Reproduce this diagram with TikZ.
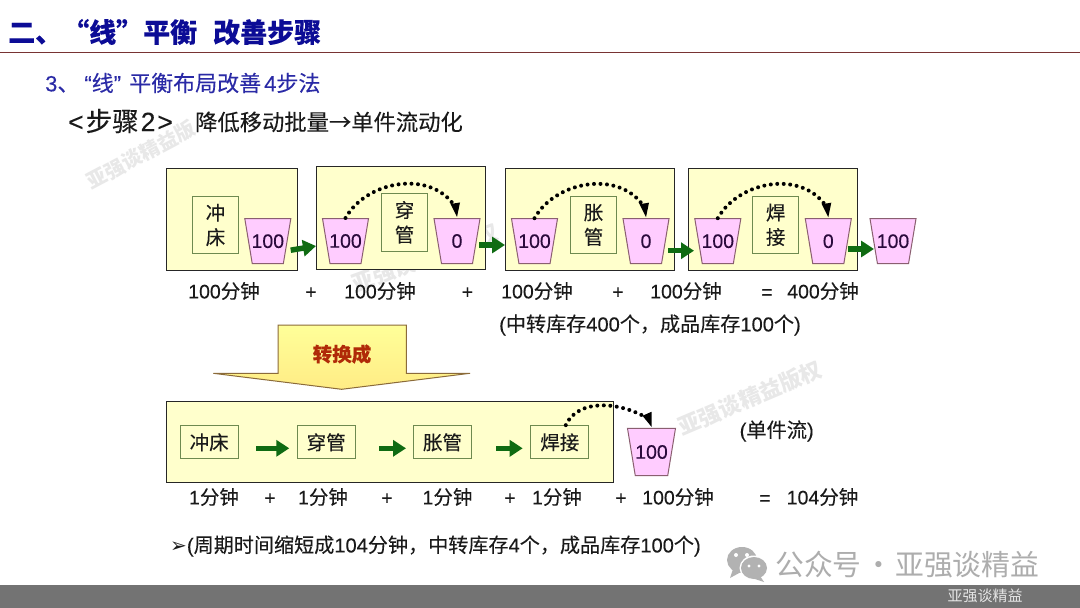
\documentclass[tikz,border=0pt]{standalone}
\usepackage{fontspec}
\setmainfont[FakeBold=0.12]{Liberation Sans}
\newfontfamily\cjk[FakeBold=0.12]{Noto Sans CJK SC}
\newfontfamily\cjklight{Noto Sans CJK SC}
\newfontfamily\dejavu{DejaVu Sans}
\newcommand{\zh}[1]{{\cjk #1}}
\newcommand{\fs}[1]{\fontsize{#1}{#1}\selectfont}
\newcommand{\gap}{\phantom{0}}
\usetikzlibrary{arrows.meta,shapes.geometric}
\definecolor{boxfill}{HTML}{FFFFCC}
\definecolor{innerline}{HTML}{6E8A50}
\definecolor{cupfill}{HTML}{FFCCFF}
\definecolor{cupline}{HTML}{8A5F70}
\definecolor{cuptext}{HTML}{2A0A3C}
\definecolor{flowgreen}{HTML}{0F6B12}
\definecolor{titleblue}{HTML}{0C0C96}
\definecolor{subblue}{HTML}{2A2AA6}
\definecolor{ink}{HTML}{1A1A1A}
\definecolor{arrowtop}{HTML}{FFFF99}
\definecolor{arrowbot}{HTML}{FFEC85}
\definecolor{arrowline}{HTML}{8B6B3A}
\definecolor{convred}{HTML}{B02A08}
\tikzset{
  outerbox/.style={draw=black!85,line width=.9pt,fill=boxfill},
  innerbox/.style={draw=innerline,line width=1pt,fill=boxfill,inner sep=0pt,align=center,text=ink,font=\fs{19.5}\cjk},
  cup/.style={trapezium,trapezium stretches=true,shape border rotate=180,trapezium angle=79.3,
    minimum width=46pt,minimum height=45pt,inner sep=0pt,draw=cupline,line width=1pt,fill=cupfill,
    label={[text=cuptext,font=\fs{19.5},inner sep=0pt]center:#1}},
  lbl/.style={font=\fs{19.5},text=ink,inner sep=0pt},
  flow/.style={draw=flowgreen,line width=5.5pt,-{Triangle[length=13pt,width=16pt]}},
  hop/.style={draw=black,line width=4pt,line cap=round,dash pattern=on 0pt off 6.5pt},
  hoptip/.style={fill=black,draw=none},
  wmark/.style={inner sep=0pt,font=\cjklight\bfseries\fs{22},text=black!9,rotate=25},
}
\newcommand{\hopcurve}[2]{% from node #1 over to node #2
  \draw[hop] (#1.90) .. controls +(22,-39) and +(-22,-41) .. ([yshift=8pt]#2.90);
  \fill[hoptip] (#2.90) ++(0,-1) -- ++(-6.5,-13) -- ++(9.5,-1.5) -- cycle;
}
\begin{document}
\begin{tikzpicture}[x=1pt,y=-1pt]
\useasboundingbox (0,0) rectangle (1080,608);
\fill[white] (0,0) rectangle (1080,608);

% watermarks
\node[wmark,rotate=3] (wm1) at (141,155) {\fs{20}亚强谈精益版};
\node[wmark,rotate=-5] (wm2) at (425,258) {亚强谈精益版权};
\node[wmark,rotate=-2] (wm3) at (750,398) {亚强谈精益版权};

% title area
\node[anchor=west,inner sep=0pt,text=titleblue,font=\cjk\bfseries\fs{27}] (title) at (8,32) {二、“线”平衡\hspace{16pt}改善步骤};
\coordinate (ruleL) at (0,52.5);
\coordinate (ruleR) at (1080,52.5);
\draw[draw=black!55!red!60!gray,line width=1pt] (ruleL) -- (ruleR);
\node[anchor=west,inner sep=0pt,text=subblue,font=\fs{22}] (sub) at (45,83) {3\zh{、}\hspace{5pt}“\zh{线}”\hspace{2pt} \zh{平衡布局改善}\hspace{3pt}4\zh{步法}};
\node[anchor=west,inner sep=0pt,text=ink,font=\fs{26.5}] (stepno) at (68,121) {<\hspace{2pt}\zh{步骤}\hspace{2pt}2\hspace{2pt}>};
\node[anchor=west,inner sep=0pt,text=ink,font=\cjk\fs{22.3}] (stepname) at (195,122) {降低移动批量→单件流动化};

% upper row: frames
\draw[outerbox] (166.7,168) rectangle (297.3,270);
\draw[outerbox] (316.7,166.7) rectangle (485,269.5);
\draw[outerbox] (505.7,168) rectangle (674.7,270);
\draw[outerbox] (688,168) rectangle (857.5,270);

% upper row: stations
\node[innerbox,minimum width=45.6pt,minimum height=56.6pt] (u1) at (215.5,225) {冲\\[5pt]床};
\node[innerbox,minimum width=45.6pt,minimum height=58pt] (u2) at (404.5,222.3) {穿\\[5pt]管};
\node[innerbox,minimum width=45.6pt,minimum height=57.5pt] (u3) at (593.5,224.8) {胀\\[5pt]管};
\node[innerbox,minimum width=45.6pt,minimum height=57.5pt] (u4) at (775.7,224.8) {焊\\[5pt]接};

% upper row: cups
\node[cup=100] (c1) at (267.8,241.2) {\gap};
\node[cup=100] (c2) at (345.5,241) {\gap};
\node[cup=0]   (c3) at (457,241) {\gap};
\node[cup=100] (c4) at (534.5,241.2) {\gap};
\node[cup=0]   (c5) at (646,241.2) {\gap};
\node[cup=100] (c6) at (717.8,241.2) {\gap};
\node[cup=0]   (c7) at (828.3,241.2) {\gap};
\node[cup=100] (c8) at (893,241.2) {\gap};

% upper row: transfer arrows
\coordinate (a1s) at (290.7,250.2); \coordinate (a1e) at (316,246);
\coordinate (a2s) at (479.3,245);   \coordinate (a2e) at (505,245);
\coordinate (a3s) at (668.3,250.7); \coordinate (a3e) at (694,250.7);
\coordinate (a4s) at (848.3,249);   \coordinate (a4e) at (874,249);
\draw[flow] (a1s) -- (a1e);
\draw[flow] (a2s) -- (a2e);
\draw[flow] (a3s) -- (a3e);
\draw[flow] (a4s) -- (a4e);

% upper row: dotted hops
\hopcurve{c2}{c3}
\hopcurve{c4}{c5}
\hopcurve{c6}{c7}

% upper row: times
\node[lbl] (t1) at (224,291) {100\zh{分钟}};
\node[lbl] (p1) at (311,293) {+};
\node[lbl] (t2) at (380,291) {100\zh{分钟}};
\node[lbl] (p2) at (467.5,293) {+};
\node[lbl] (t3) at (537,291) {100\zh{分钟}};
\node[lbl] (p3) at (618,293) {+};
\node[lbl] (t4) at (686,291) {100\zh{分钟}};
\node[lbl] (eq1) at (767,294) {=};
\node[lbl] (t5) at (823,291) {400\zh{分钟}};
\node[lbl,anchor=west,font=\fs{20.1}] (wip1) at (499,325) {(\zh{中转库存}400\zh{个，成品库存}100\zh{个})};

% big arrow
\draw[draw=arrowline,line width=1pt,top color=arrowtop,bottom color=arrowbot]
  (278,325) -- (406.3,325) -- (406.3,373.3) -- (470,373.3) -- (341.7,389.3) -- (213.3,373.3) -- (278,373.3) -- cycle;
\node[inner sep=0pt,text=convred,font=\cjk\bfseries\fs{19.5}] (conv) at (342,354) {转换成};

% lower row
\draw[outerbox] (166.7,401.3) rectangle (613.3,482.7);
\node[innerbox,minimum width=58.3pt,minimum height=32.7pt] (l1) at (209.2,442.3) {冲床};
\node[innerbox,minimum width=57.7pt,minimum height=32.7pt] (l2) at (326.2,442.3) {穿管};
\node[innerbox,minimum width=58.3pt,minimum height=32.7pt] (l3) at (442.5,442.3) {胀管};
\node[innerbox,minimum width=57.7pt,minimum height=33.3pt] (l4) at (559.8,442.3) {焊接};
\node[cup=100,minimum width=48pt,minimum height=47.4pt] (c9) at (651.5,452) {\gap};

\coordinate (b1s) at (256,448.3); \coordinate (b1e) at (289.3,448.3);
\coordinate (b2s) at (379,448.3); \coordinate (b2e) at (406,448.3);
\coordinate (b3s) at (496,448.3); \coordinate (b3e) at (522.7,448.3);
\draw[flow] (b1s) -- (b1e);
\draw[flow] (b2s) -- (b2e);
\draw[flow] (b3s) -- (b3e);

\draw[hop] ([xshift=6pt]l4.north) .. controls +(12,-27) and +(-30,-20) .. ([yshift=7pt]c9.90);
\fill[hoptip] (c9.90) ++(0,-1) -- ++(-9,-11) -- ++(9,-4) -- cycle;

% lower row: times
\node[lbl] (s1) at (214,497) {1\zh{分钟}};
\node[lbl] (q1) at (270,499) {+};
\node[lbl] (s2) at (323,497) {1\zh{分钟}};
\node[lbl] (q2) at (387,499) {+};
\node[lbl] (s3) at (447.5,497) {1\zh{分钟}};
\node[lbl] (q3) at (510,499) {+};
\node[lbl] (s4) at (557,497) {1\zh{分钟}};
\node[lbl] (q4) at (621,499) {+};
\node[lbl] (s5) at (678,497) {100\zh{分钟}};
\node[lbl] (eq2) at (765,500) {=};
\node[lbl] (s6) at (822.5,497) {104\zh{分钟}};
\node[lbl,font=\fs{20.2}] (single) at (776.7,431) {(\zh{单件流})};
\node[lbl,anchor=west,font=\fs{20.1}] (wip2) at (170,546) {{\dejavu\fs{20}➢}(\zh{周期时间缩短成}104\zh{分钟，中转库存}4\zh{个，成品库存}100\zh{个})};

% channel mark and footer
\fill[black!30] (742,560) ellipse (15 and 13);
\fill[black!30] (733,569) -- (730,578) -- (741,572) -- cycle;
\fill[white] (754,568) ellipse (14.5 and 12.5);
\fill[black!30] (754,568) ellipse (13 and 11);
\fill[black!30] (760,576) -- (764,582) -- (752,578) -- cycle;
\fill[white] (736,555) circle (2); \fill[white] (747,555) circle (2);
\fill[white] (749,566) circle (1.7); \fill[white] (759,566) circle (1.7);
\node[anchor=west,inner sep=0pt,text=black!32,font=\cjklight\fs{28.8}] (account) at (775,565) {公众号\hspace{-4pt} · \hspace{-4pt}亚强谈精益};
\fill[black!55] (0,585) rectangle (1080,608);
\node[inner sep=0pt,text=white!90!black,font=\cjklight\fs{15}] (foot) at (985,596) {亚强谈精益};
\end{tikzpicture}
\end{document}
